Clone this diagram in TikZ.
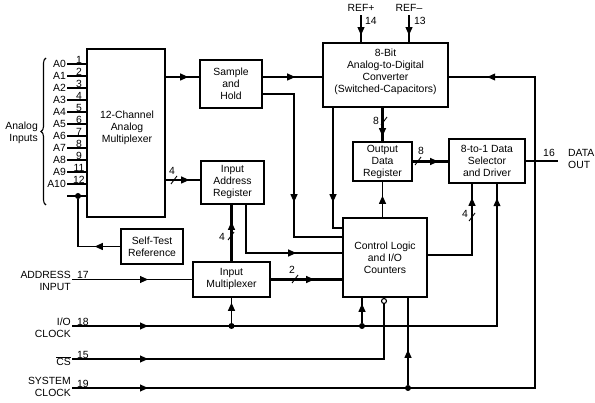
\documentclass[tikz,border=0pt]{standalone}
\usepackage{fontspec}
\setmainfont{Liberation Sans}
\usetikzlibrary{arrows.meta,decorations.markings,decorations.pathreplacing}

\begin{document}
\begin{tikzpicture}[x=1pt,y=-1pt,
    font=\fontsize{10.4}{12}\selectfont,
    blk/.style={draw, line width=2.4pt, align=center, inner sep=0pt},
    sig/.style={line width=1.1pt},
    bus/.style={line width=2.6pt},
    tip/.style={postaction={decorate,decoration={markings,
        mark=at position #1 with {\arrow[line width=1pt]{Triangle[length=8pt,width=7pt]}}}}},
    dot/.style={circle, fill, inner sep=0pt, minimum size=6pt},
    pin/.style={anchor=south, inner sep=0.5pt},
    lbl/.style={anchor=east, align=right, inner sep=1pt},
    bslash/.pic={\draw[line width=0.9pt] (-3,4) -- (3,-4);}]
    \useasboundingbox (0,0) rectangle (595,403);

    % Bloecke
    \node[blk, minimum width=78pt, minimum height=168pt] (mux) at (126,133) {};
    \node[align=center] (muxtxt) at (127,128) {12-Channel\\Analog\\Multiplexer};
    \node[blk, minimum width=62pt, minimum height=48pt] (sh) at (231,84) {Sample\\and\\Hold};
    \node[blk, minimum width=125pt, minimum height=64pt] (adc) at (385.5,75) {};
    \node[align=center] (adctxt) at (385.5,72) {8-Bit\\Analog-to-Digital\\Converter\\(Switched-Capacitors)};
    \node[blk, minimum width=59pt, minimum height=39pt] (odr) at (382.5,161.5) {Output\\Data\\Register};
    \node[blk, minimum width=76pt, minimum height=44pt] (dsel) at (487,161) {8-to-1 Data\\Selector\\and Driver};
    \node[blk, minimum width=84pt, minimum height=79pt] (ctl) at (385,257.5) {Control Logic\\and I/O\\Counters};
    \node[blk, minimum width=63pt, minimum height=43pt] (iar) at (232.5,182.5) {Input\\Address\\Register};
    \node[blk, minimum width=77pt, minimum height=35pt] (imux) at (231.5,279.5) {Input\\Multiplexer};
    \node[blk, minimum width=62pt, minimum height=35pt] (str) at (152,246.5) {Self-Test\\Reference};

    % Hilfspunkte
    \coordinate (rowA) at (0,77);
    \coordinate (rowB) at (0,94);
    \coordinate (rowC) at (0,180);
    \coordinate (shx) at (294,237);
    \coordinate (adcx) at (333,228);
    \coordinate (iarx) at (246,253);
    \coordinate (fourx) at (472,255);
    \coordinate (ioy) at (497,326);
    \coordinate (csy) at (384,359);
    \coordinate (sysy) at (535,388);
    \coordinate (doutx) at (558,161);

    % Analogeingaenge
    \foreach \i/\p in {0/1,1/2,2/3,3/4,4/5,5/6,6/7,7/8,8/9,9/11,10/12} {
        \pgfmathsetmacro\yy{64+12*\i}
        \node[lbl] (a\i) at (67,\yy) {A\i};
        \draw[sig] (a\i.east) -- (a\i.east -| mux.west);
        \node[pin] at (79,\yy) {\p};
    }
    \coordinate (tst) at (67,196);
    \draw[sig] (tst) -- (tst -| mux.west);
    \node[dot] (tdot) at (78,196) {};
    \draw[sig, tip=25pt] (str.west) -| (tdot);
    \draw[sig, decorate, decoration={brace, amplitude=5pt}] (46,205) -- (46,58);
    \node[lbl] (ain) at (39,133) {Analog\\Inputs};

    % Datenpfad
    \draw[sig, tip=22pt] (mux.east |- rowA) -- (sh.west |- rowA);
    \draw[sig, tip=32pt] (sh.east |- rowA) -- (adc.west |- rowA);
    \draw[sig, tip=139pt] (sh.east |- rowB) -| (shx) -- (shx -| ctl.west);
    \draw[sig, tip=94pt] (adcx |- adc.south) -- (adcx) -- (adcx -| ctl.west);
    \draw[bus, tip=28pt] (odr.north |- adc.south) -- (odr.north);
    \pic at (384,121) {bslash};
    \node at (376,121) {8};
    \draw[bus, tip=25pt] (odr.east) -- (odr.east -| dsel.west);
    \pic at (418,161) {bslash};
    \node at (421,151) {8};
    \draw[sig, tip=21pt] (odr.south |- ctl.north) -- (odr.south);
    \draw[sig, tip=101pt] (ctl.east |- fourx) -- (fourx) -- (fourx |- dsel.south);
    \pic at (472,217) {bslash};
    \node at (465,214) {4};
    \draw[sig] (dsel.east) -- (doutx);
    \node at (549,153) {16};
    \node[anchor=west, align=left, inner sep=1pt] (dout) at (567,159) {DATA\\OUT};

    % Adresspfad
    \draw[bus, tip=23pt] (mux.east |- rowC) -- (iar.west |- rowC);
    \pic at (174,180) {bslash};
    \node at (172,171) {4};
    \draw[bus, tip=39pt] (imux.north) -- (imux.north |- iar.south);
    \pic at (231,236) {bslash};
    \node at (222,237) {4};
    \draw[sig, tip=98pt] (iarx |- iar.south) -- (iarx) -- (iarx -| ctl.west);
    \draw[bus, tip=43pt] (imux.east) -- (imux.east -| ctl.west);
    \pic at (295,279) {bslash};
    \node at (292,270) {2};

    % Referenzen
    \node (refp) at (361,8) {REF+};
    \draw[sig, tip=20pt] (refp.south) -- (refp.south |- adc.north);
    \node[anchor=west, inner sep=1pt] at (364,21) {14};
    \node (refm) at (409,8) {REF--};
    \draw[sig, tip=20pt] (refm.south) -- (refm.south |- adc.north);
    \node[anchor=west, inner sep=1pt] at (413,21) {13};

    % Steuereingaenge
    \node[lbl] (addr) at (72,281) {ADDRESS\\INPUT};
    \draw[sig, tip=76pt] (addr.east |- imux.west) -- (imux.west);
    \node[pin] at (83,279) {17};
    \node[lbl] (ioclk) at (72,328) {I/O\\CLOCK};
    \draw[sig, tip=76pt, tip=-14pt] (ioclk.east |- ioy) -- (ioy) -- (ioy |- dsel.south);
    \node[pin] at (83,326) {18};
    \node[dot] (d1) at (imux.south |- ioy) {};
    \draw[sig, tip=20pt] (d1) -- (imux.south);
    \node[dot] (d2) at (362,326) {};
    \draw[sig, tip=19pt] (d2) -- (d2 |- ctl.south);
    \node[lbl] (cs) at (72,361) {$\overline{\mbox{CS}}$};
    \node[draw, circle, fill=white, line width=1.1pt, minimum size=5pt, inner sep=0pt] (bub) at (384,301) {};
    \draw[sig, tip=76pt] (cs.east |- csy) -- (csy) -- (bub.south);
    \node[pin] at (83,359) {15};
    \node[lbl] (sysclk) at (72,387) {SYSTEM\\CLOCK};
    \draw[sig, tip=76pt, tip=-38pt] (sysclk.east |- sysy) -- (sysy) -- (sysy |- rowA) -- (adc.east |- rowA);
    \node[pin] at (83,388) {19};
    \node[dot] (d3) at (408,388) {};
    \draw[sig, tip=35pt] (d3) -- (d3 |- ctl.south);
\end{tikzpicture}
\end{document}
